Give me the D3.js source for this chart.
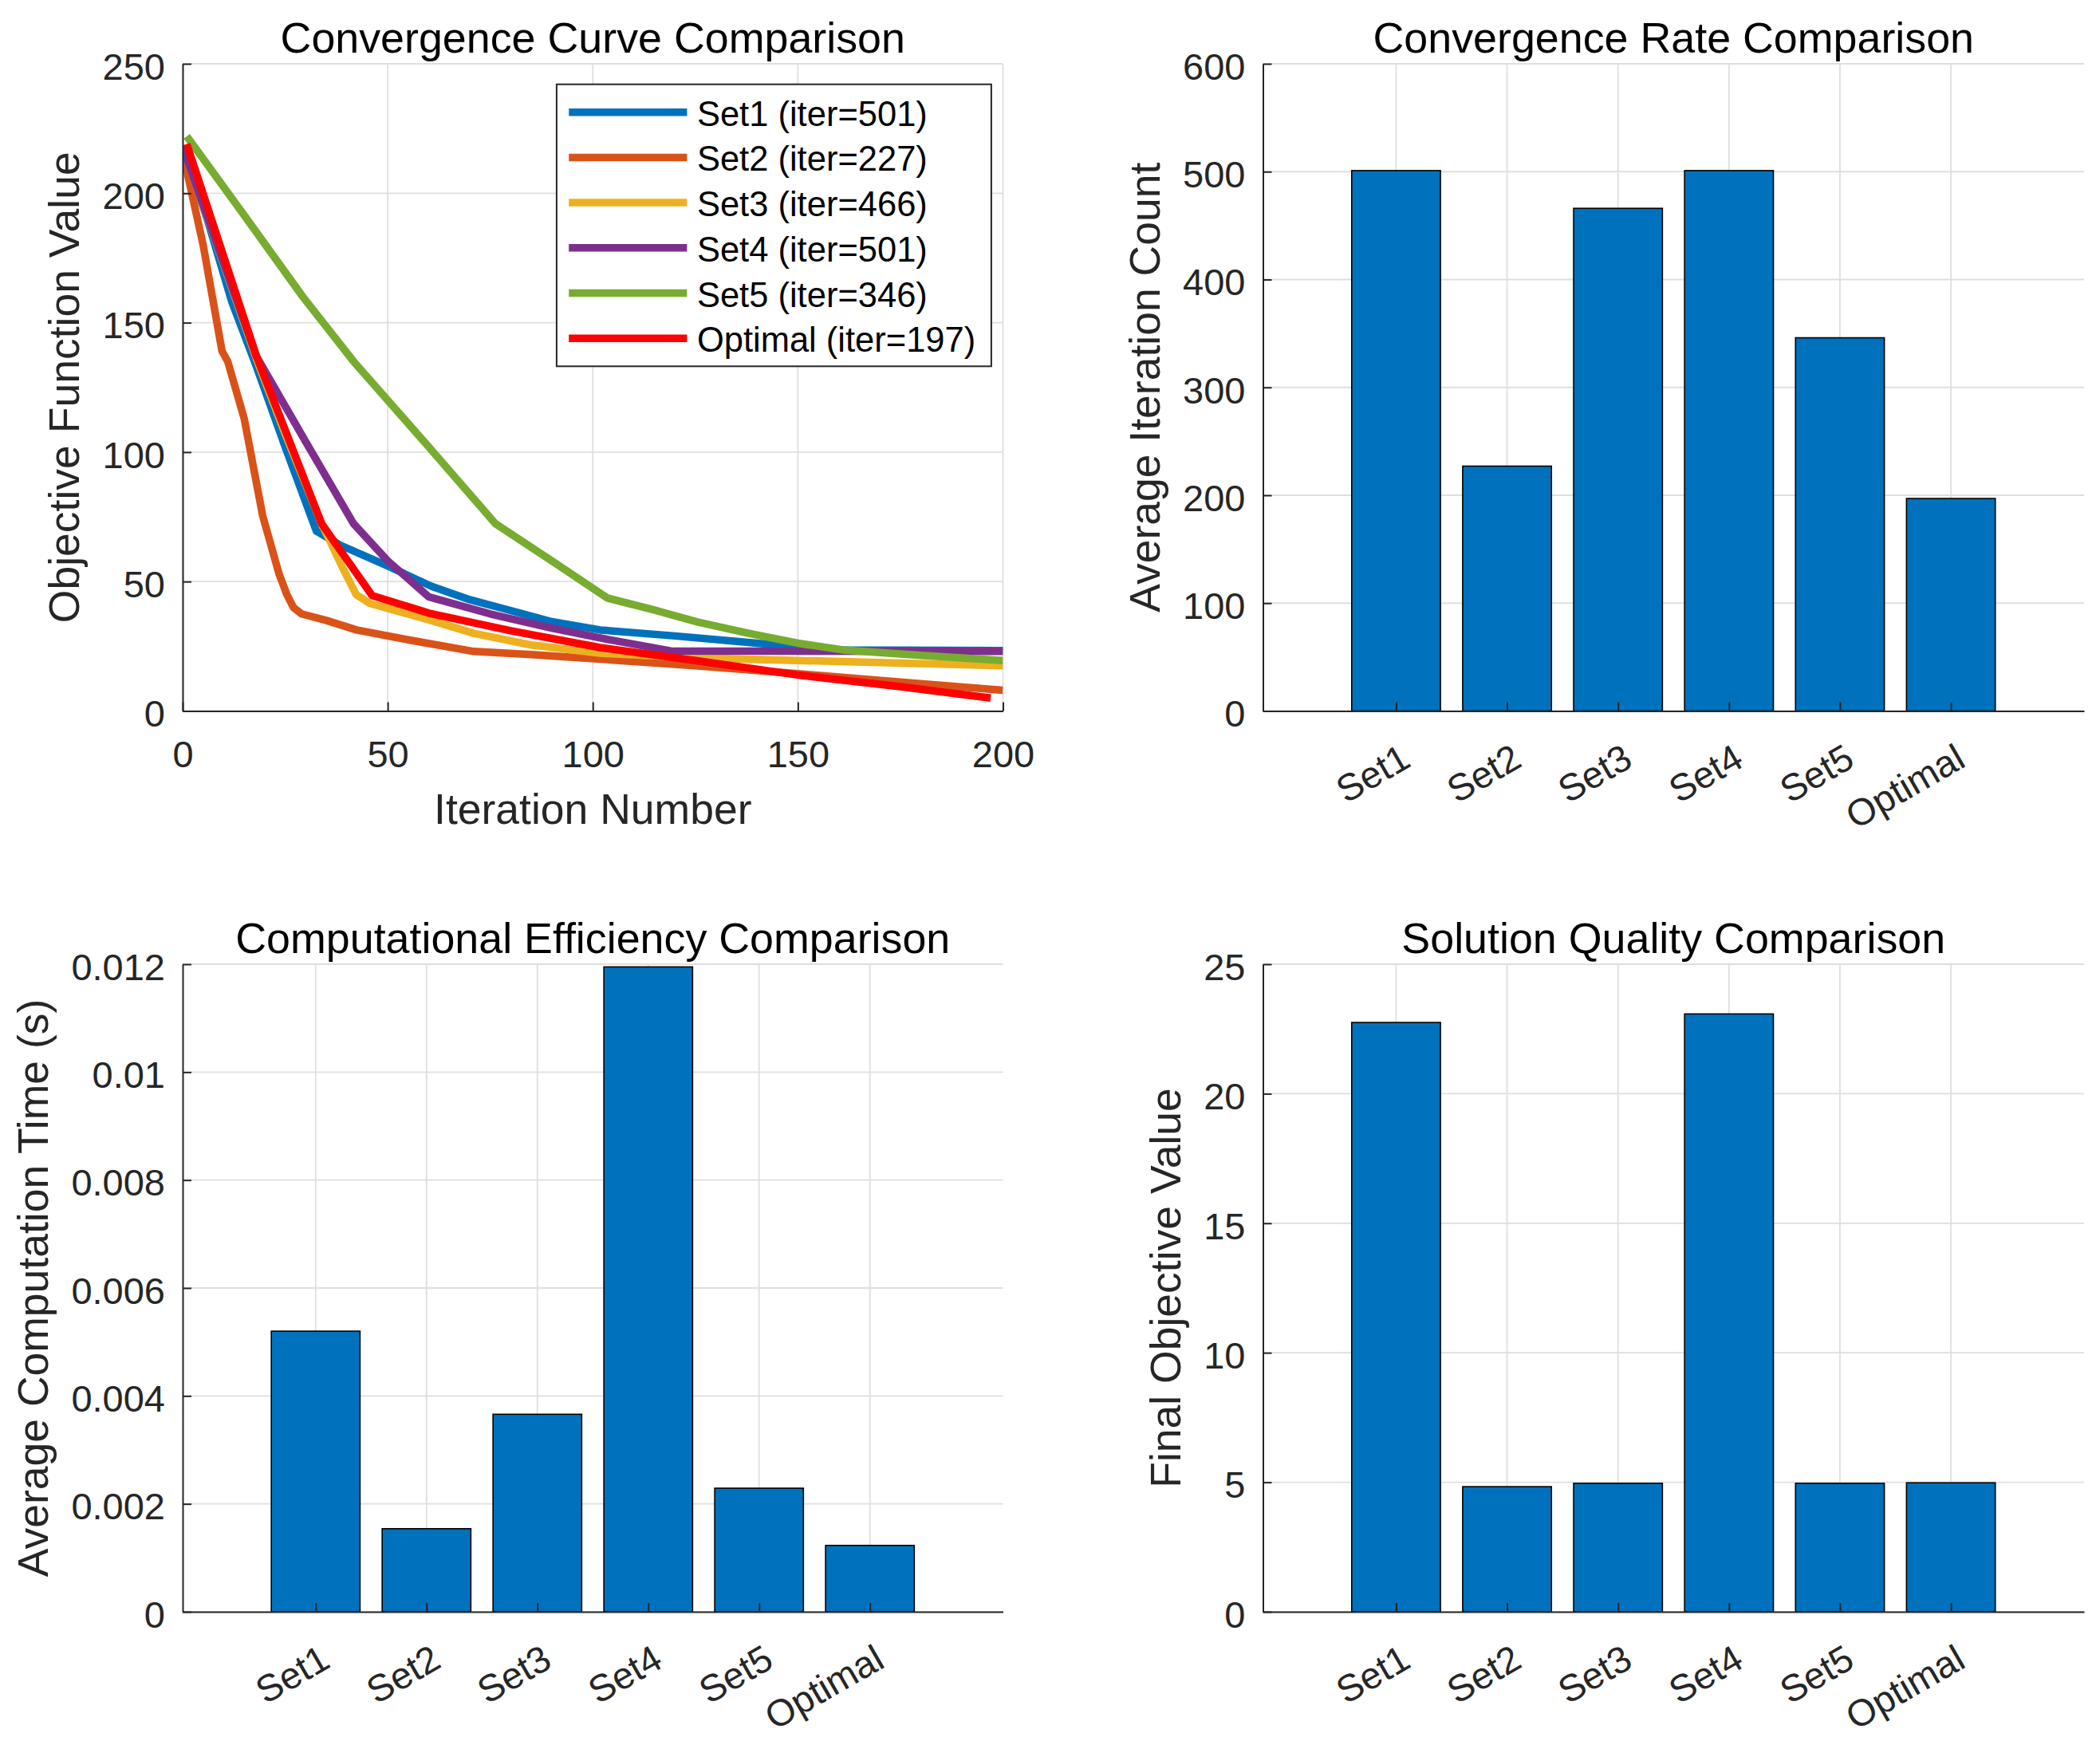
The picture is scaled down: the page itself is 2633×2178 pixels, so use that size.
<!DOCTYPE html>
<html><head><meta charset="utf-8">
<script src="https://cdn.jsdelivr.net/npm/d3@7"></script>
<style>
body{margin:0;background:#fff}
svg text{font-family:"Liberation Sans",Arial,Helvetica,sans-serif}
</style>
</head><body>
<svg id="c" width="2633" height="2178"></svg>
<script>
// ---------------- data ----------------
const categories = ["Set1","Set2","Set3","Set4","Set5","Optimal"];
const iterCounts = [501,227,466,501,346,197];
const compTimes  = [0.0052,0.00154,0.00366,0.01195,0.00229,0.00123];
const finalValues = [22.75,4.83,4.96,23.08,4.96,4.98];

const curveSet1 = [[0,218],[6,190],[12,158],[18,133],[25,102],[32.6,69.5],[38.5,64],[50,56],[60.6,48.2],[70,43],[78.3,39.5],[90,34.5],[101.8,31.3],[120,29],[145,25.5],[160,23.6],[200,23.3]];
const curveSet2 = [[0,216],[5,180],[9.6,139],[11,135],[15,113],[19.5,75.5],[23.5,53],[25.4,45],[27,40],[29,37.5],[35,35],[42.4,31.3],[55,27.5],[71,23],[85,21.8],[101.8,20],[125,17.5],[150,14.4],[175,11.2],[200,8]];
const curveSet3 = [[0,218],[18,136],[25,107],[33.9,72.3],[37,62],[39.1,55],[42.3,45],[45.6,41.6],[60.5,35],[71,30],[85,25.5],[101.8,22.3],[125,20.6],[150,19.5],[200,17.5]];
const curveSet4 = [[0,218],[18,137],[30,104],[41.7,72.3],[50,58],[60,44.1],[75,37.5],[90,32],[101.8,28.2],[119,23.2],[200,23]];
const curveSet5 = [[1,222],[15,191.5],[29.3,160],[41.7,135],[60,102],[76.3,72.3],[90,58],[103.6,43.6],[115,39],[125.5,34.4],[138,30],[150,26.2],[161,23.6],[180,21.5],[200,19.5]];
const curveOptimal = [[1,219],[18,137],[33.9,72.3],[46.2,44.6],[60.5,37.6],[80,31],[101.8,24.5],[125,19.5],[150,13.9],[175,9.4],[197,5]];
const curves = [curveSet1,curveSet2,curveSet3,curveSet4,curveSet5,curveOptimal];
const seriesColors = ["#0072BD","#D95319","#EDB120","#7E2F8E","#77AC30","#FF0000"];

const xTicksCurve = [0,50,100,150,200];
const yTicksCurve = [0,50,100,150,200,250];
const yTicksIter  = [0,100,200,300,400,500,600];
const yTicksTime  = [0,0.002,0.004,0.006,0.008,0.01,0.012];
const yTickLabelsTime = ["0","0.002","0.004","0.006","0.008","0.01","0.012"];
const yTicksFinal = [0,5,10,15,20,25];
const catTicks = [1,2,3,4,5,6];

// ---------------- layout ----------------
const svg = d3.select("#c");
const AX = "#262626", GRID = "#dfdfdf";
const FT = 47, FL = 53.5, FTI = 53.8, FLEG = 43.5;
const colL = [229, 1257.5], colR = [1583.5, 2613];
const rowT = [80, 891.5], rowB = [1209, 2021];

function grid(g, xs, ys, xv, yv, box){
  g.selectAll(null).data(xv).join("line")
    .attr("x1",d=>xs(d)).attr("x2",d=>xs(d)).attr("y1",box.y0).attr("y2",box.y1)
    .attr("stroke",GRID).attr("stroke-width",1.8);
  g.selectAll(null).data(yv).join("line")
    .attr("y1",d=>ys(d)).attr("y2",d=>ys(d)).attr("x1",box.x0).attr("x2",box.x1)
    .attr("stroke",GRID).attr("stroke-width",1.8);
}
function styleAxis(ga){
  ga.attr("font-size",FT).attr("font-family",null).attr("color",AX);
  ga.select(".domain").attr("stroke-width",2);
  ga.selectAll(".tick line").attr("stroke-width",2);
}
function decorate(g, box, ga, title, ylab, xlab){
  let maxW = 0;
  ga.selectAll(".tick text").each(function(){ maxW = Math.max(maxW, this.getComputedTextLength()); });
  const cx = (box.x0+box.x1)/2, cy = (box.y0+box.y1)/2;
  g.append("text").attr("x",cx).attr("y",box.y0-14.5).attr("text-anchor","middle")
    .attr("font-size",FTI).attr("fill","#000").text(title);
  g.append("text").attr("transform",`translate(${box.x0-22-maxW-29.5},${cy}) rotate(-90)`)
    .attr("text-anchor","middle").attr("font-size",FL).attr("fill",AX).text(ylab);
  if(xlab) g.append("text").attr("x",cx).attr("y",box.y1+141).attr("text-anchor","middle")
    .attr("font-size",FL).attr("fill",AX).text(xlab);
}

// ---------- panel 1: convergence curves ----------
(function(){
  const box = {x0:colL[0],x1:colL[1],y0:rowT[0],y1:rowT[1]};
  const x = d3.scaleLinear([0,200],[box.x0,box.x1]);
  const y = d3.scaleLinear([0,250],[box.y1,box.y0]);
  const g = svg.append("g");
  grid(g,x,y,xTicksCurve,yTicksCurve,box);
  g.append("clipPath").attr("id","clip1").append("rect")
    .attr("x",box.x0).attr("y",box.y0).attr("width",box.x1-box.x0).attr("height",box.y1-box.y0);
  const line = d3.line().x(d=>x(d[0])).y(d=>y(d[1]));
  g.append("g").attr("clip-path","url(#clip1)").selectAll("path").data(curves).join("path")
    .attr("d",line).attr("fill","none").attr("stroke",(d,i)=>seriesColors[i])
    .attr("stroke-width",9.5).attr("stroke-linejoin","round").attr("stroke-linecap","butt");
  const gy = g.append("g").attr("transform",`translate(${box.x0},0)`)
    .call(d3.axisLeft(y).tickValues(yTicksCurve).tickSize(-11).tickSizeOuter(0).tickPadding(22));
  styleAxis(gy); gy.selectAll(".tick text").attr("dy","0.41em");
  const gx = g.append("g").attr("transform",`translate(0,${box.y1})`)
    .call(d3.axisBottom(x).tickValues(xTicksCurve).tickSize(-11).tickSizeOuter(0));
  styleAxis(gx); gx.selectAll(".tick text").attr("y",70).attr("dy",0);
  decorate(g,box,gy,"Convergence Curve Comparison","Objective Function Value","Iteration Number");
  // legend
  const lg = g.append("g");
  lg.append("rect").attr("x",697.9).attr("y",105.7).attr("width",545).attr("height",353.6)
    .attr("fill","#fff").attr("stroke",AX).attr("stroke-width",2);
  const rows = lg.selectAll("g.r").data(categories).join("g").attr("class","r")
    .attr("transform",(d,i)=>`translate(0,${140.7+i*56.7})`);
  rows.append("line").attr("x1",713.2).attr("x2",861.4).attr("stroke",(d,i)=>seriesColors[i]).attr("stroke-width",9.5);
  rows.append("text").attr("x",873.9).attr("y",17).attr("font-size",FLEG).attr("fill","#000")
    .text((d,i)=>`${d} (iter=${iterCounts[i]})`);
})();

// ---------- bar panels ----------
function barPanel(col,row,vals,yDomain,yTicks,yFmt,title,ylab){
  const box = {x0:col[0],x1:col[1],y0:row[0],y1:row[1]};
  const x = d3.scaleLinear([-0.2,7.2],[box.x0,box.x1]);
  const y = d3.scaleLinear(yDomain,[box.y1,box.y0]);
  const g = svg.append("g");
  grid(g,x,y,catTicks,yTicks,box);
  const bw = (x(1)-x(0))*0.8;
  g.selectAll("rect.bar").data(vals).join("rect").attr("class","bar")
    .attr("x",(d,i)=>x(i+1)-bw/2).attr("width",bw)
    .attr("y",d=>y(d)).attr("height",d=>y(0)-y(d))
    .attr("fill","#0072BD").attr("stroke","#000").attr("stroke-width",1.6);
  const ay = d3.axisLeft(y).tickValues(yTicks).tickSize(-11).tickSizeOuter(0).tickPadding(22);
  if(yFmt) ay.tickFormat(yFmt);
  const gy = g.append("g").attr("transform",`translate(${box.x0},0)`).call(ay);
  styleAxis(gy); gy.selectAll(".tick text").attr("dy","0.41em");
  const gx = g.append("g").attr("transform",`translate(0,${box.y1})`)
    .call(d3.axisBottom(x).tickValues(catTicks).tickFormat(d=>categories[d-1]).tickSize(-11).tickSizeOuter(0));
  styleAxis(gx);
  gx.selectAll(".tick text").attr("y",0).attr("dy","0.35em").attr("text-anchor","end")
    .attr("transform","translate(12,54) rotate(-30)");
  decorate(g,box,gy,title,ylab,null);
}
barPanel(colR,rowT,iterCounts,[0,600],yTicksIter,null,"Convergence Rate Comparison","Average Iteration Count");
barPanel(colL,rowB,compTimes,[0,0.012],yTicksTime,(d,i)=>yTickLabelsTime[i],"Computational Efficiency Comparison","Average Computation Time (s)");
barPanel(colR,rowB,finalValues,[0,25],yTicksFinal,null,"Solution Quality Comparison","Final Objective Value");
</script>
</body></html>
